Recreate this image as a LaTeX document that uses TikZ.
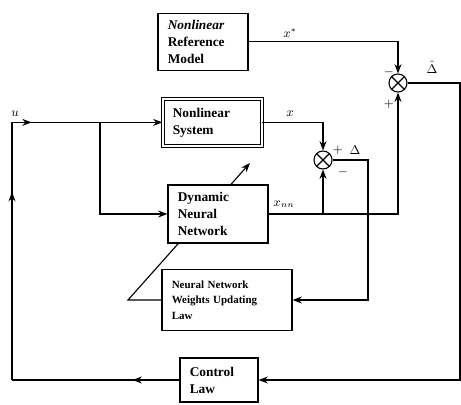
\documentclass[tikz,border=0pt]{standalone}
\usepackage{fontspec}
\setmainfont{Liberation Serif}
\usepackage{amsmath,amssymb}
\usetikzlibrary{arrows.meta, positioning, decorations.markings, backgrounds}

\begin{document}
\begin{tikzpicture}[>=Stealth, thick, every node/.style={align=left},
    blk/.style={draw, fill=white, font=\bfseries\fontsize{9.5}{12}\selectfont, inner xsep=7pt, inner ysep=3pt},
    sumnode/.style={draw, circle, minimum size=0.45cm, inner sep=0pt},
    lbl/.style={font=\small, inner sep=1pt},
    midarrow/.style={postaction={decorate}, decoration={markings, mark=at position #1 with {\arrow{Stealth}}}}]
      \useasboundingbox (0,0) rectangle (11.525,-10.1);
      % blocks
      \node[blk, text width=1.76cm, minimum height=1.425cm] (nrm) at (5.075,-1.04) {\textit{Nonlinear}\\Reference\\Model};
      \node[blk, double, double distance=1.2pt, text width=1.98cm, minimum height=1.175cm] (nls) at (5.31,-3.06) {Nonlinear\\System};
      \node[blk, text width=2.01cm, minimum height=1.45cm] (dnn) at (5.45,-5.35) {Dynamic\\Neural\\Network};
      \node[blk, text width=2.76cm, minimum height=1.525cm, font=\bfseries\fontsize{7.8}{11}\selectfont] (wul) at (5.675,-7.5) {Neural Network\\Weights Updating\\Law};
      \node[blk, text width=1.46cm, minimum height=1.1cm] (ctl) at (5.475,-9.5) {Control\\Law};
      % summing junctions
      \node[sumnode] (sumA) at (9.95,-2.075) {};
      \node[sumnode] (sumB) at (8.075,-4.0) {};
      \foreach \s in {sumA, sumB}
        \draw (\s.north east) -- (\s.south west) (\s.north west) -- (\s.south east);
      % corner points
      \coordinate (uin) at (0.3,-3.06);
      \coordinate (ubr) at (2.5,-3.06);
      \coordinate (lowL) at (0.3,-9.5);
      \coordinate (rgtB) at (11.5,-9.5);
      \coordinate (nnb) at (8.075,-5.35);
      \coordinate (errB) at (9.2,-7.5);
      \coordinate (wulL) at (3.2,-7.5);
      \coordinate (adj) at (6.25,-4.075);
      % signals
      \draw[->] (nrm.east) -| (sumA.north);
      \draw[->, midarrow=0.13] (uin) -- (nls.west);
      \draw[->] (ubr) |- (dnn.west);
      \draw[->] (nls.east) -| (sumB.north);
      \draw[->] (dnn.east) -| (sumA.south);
      \draw[->] (nnb) -- (sumB.south);
      \draw[->] (sumB.east) -| (errB) -- (wul.east);
      \draw[->] (sumA.east) -| (rgtB) -- (ctl.east);
      \draw[midarrow=0.28] (ctl.west) -- (lowL);
      \draw[midarrow=0.73] (lowL) -- (uin);
      % labels
      \node[lbl] (lxs) at (7.25,-0.82) {$x^*$};
      \node[lbl] (lx) at (7.25,-2.85) {$x$};
      \node[lbl] (lxnn) at (7.1,-5.1) {$x_{nn}$};
      \node[lbl] (lpB) at (8.45,-3.75) {$+$};
      \node[lbl] (ldB) at (8.875,-3.75) {$\Delta$};
      \node[lbl] (lmB) at (8.575,-4.3) {$-$};
      \node[lbl] (lmA) at (9.72,-1.82) {$-$};
      \node[lbl] (lpA) at (9.72,-2.6) {$+$};
      \node[lbl] (ldA) at (10.8,-1.68) {$\hat{\Delta}$};
      \node[lbl] (lu) at (0.375,-2.85) {$u$};
      % weight adjustment, behind the network box
      \begin{pgfonlayer}{background}
        \draw[->, line width=0.8pt] (wul.west) -- (wulL) -- (adj);
      \end{pgfonlayer}
    \end{tikzpicture}
\end{document}
